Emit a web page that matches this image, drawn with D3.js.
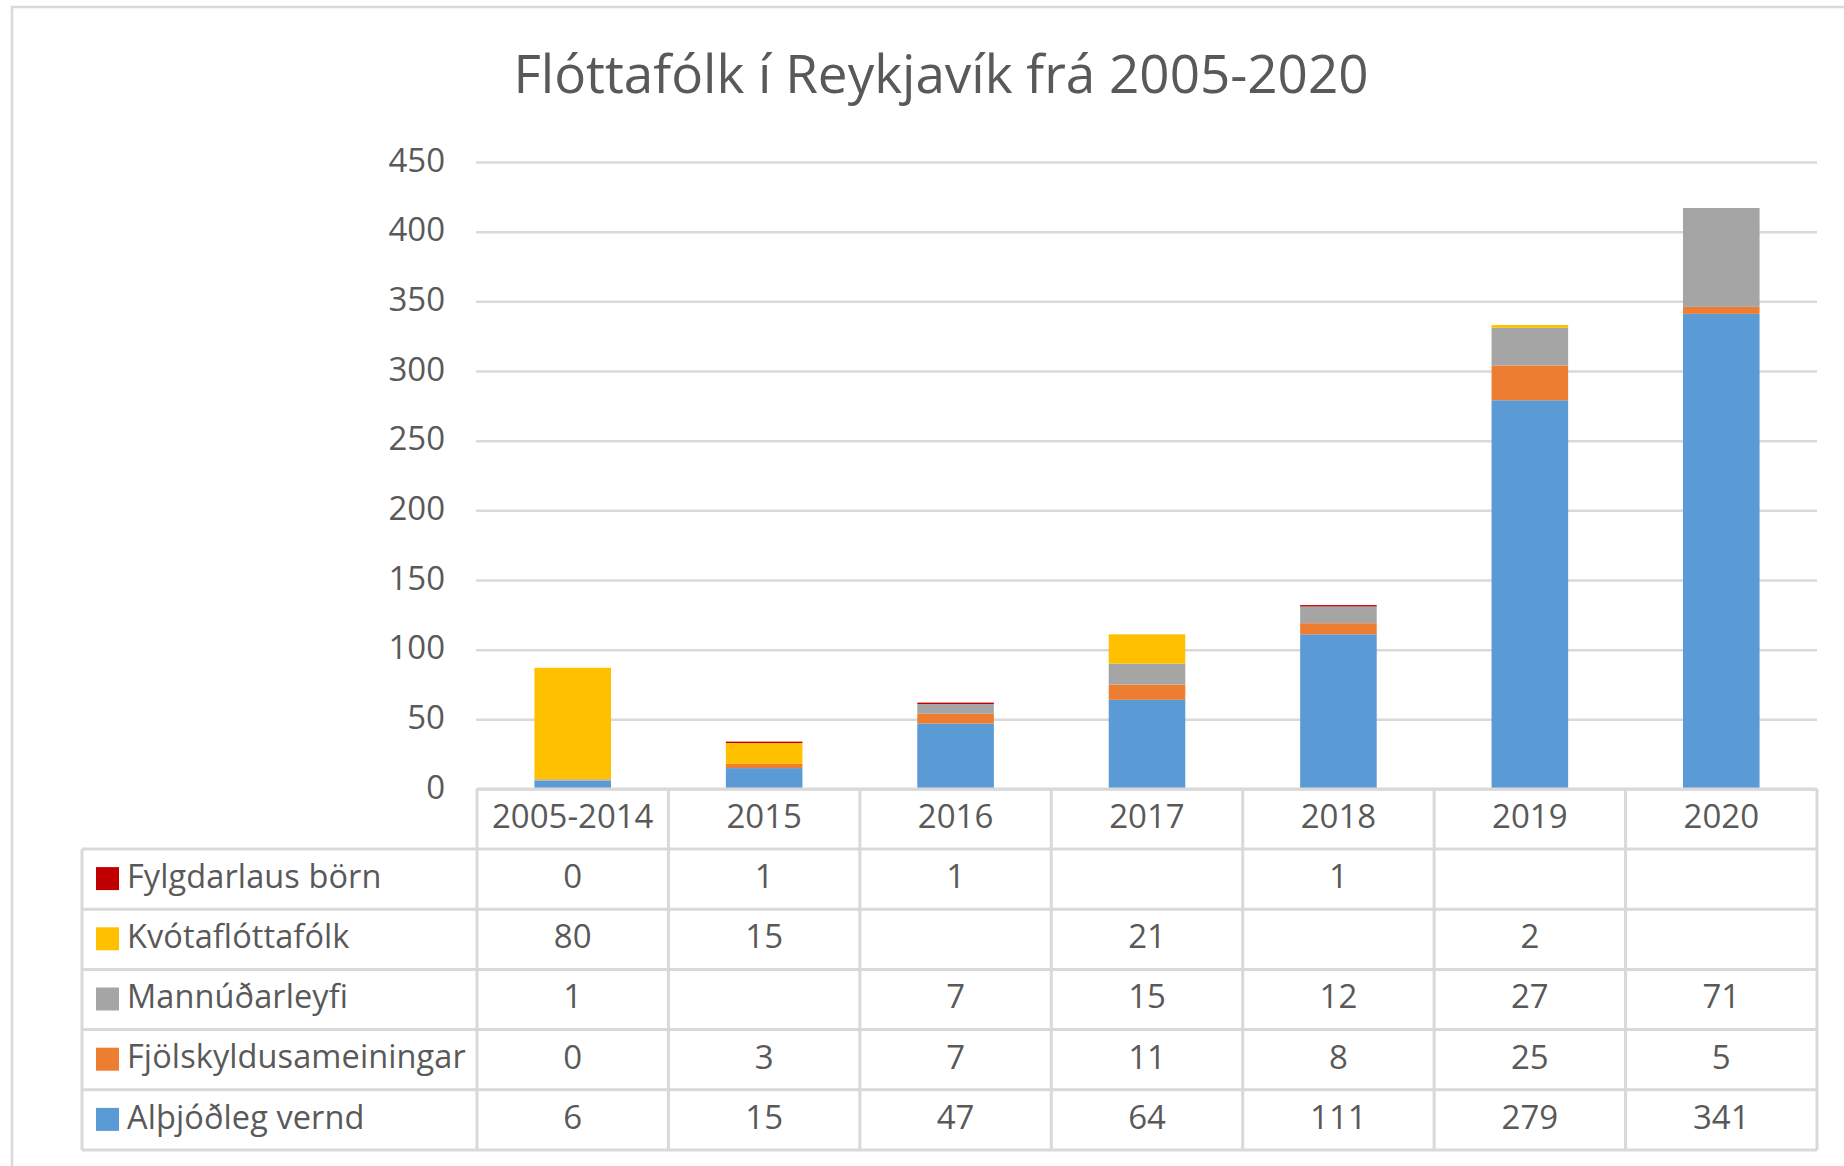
<!DOCTYPE html>
<html>
  <head>
    <meta charset="utf-8" />
    <title>Flóttafólk í Reykjavík frá 2005-2020</title>
    <style>
      body {
        background: #fff;
        margin: 0;
      }
      text {
        font-family: "Open Sans", sans-serif;
        fill: #595959;
      }
    </style>
  </head>
  <body>
    <script src="https://cdn.jsdelivr.net/npm/d3@7"></script>
    <svg class="canvas"></svg>

    <script>
      const categories = ["2005-2014", "2015", "2016", "2017", "2018", "2019", "2020"];

      // stacked bottom -> top
      const seriesNames = [
        "Alþjóðleg vernd",
        "Fjölskyldusameiningar",
        "Mannúðarleyfi",
        "Kvótaflóttafólk",
        "Fylgdarlaus börn",
      ];
      const althjodleg = [6, 15, 47, 64, 111, 279, 341];
      const fjolskyldu = [0, 3, 7, 11, 8, 25, 5];
      const mannudar = [1, null, 7, 15, 12, 27, 71];
      const kvota = [80, 15, null, 21, null, 2, null];
      const fylgdarlaus = [0, 1, 1, null, 1, null, null];

      const colors = ["#5b9bd5", "#ed7d31", "#a5a5a5", "#ffc000", "#c00000"];
      const yTicks = [0, 50, 100, 150, 200, 250, 300, 350, 400, 450];

      window.onload = function () {
        const width = 1844,
          height = 1166;
        const values = [althjodleg, fjolskyldu, mannudar, kvota, fylgdarlaus];

        const svg = d3.select(".canvas").attr("width", width).attr("height", height);

        // frame
        svg
          .append("path")
          .attr("d", `M12,${height + 5}V7H${width + 5}`)
          .attr("fill", "none")
          .attr("stroke", "#d9d9d9")
          .attr("stroke-width", 2.5);

        //----------------title----------------
        svg
          .append("text")
          .attr("x", 941)
          .attr("y", 93)
          .attr("text-anchor", "middle")
          .style("font-size", "53px")
          .text("Flóttafólk í Reykjavík frá 2005-2020");

        //----------------scales----------------
        const x = d3.scaleBand().domain(categories).range([477, 1817]);
        const y = d3.scaleLinear().domain([0, 450]).range([789, 162]);

        const yAxis = svg
          .append("g")
          .attr("transform", "translate(476,0)")
          .call(d3.axisLeft(y).tickValues(yTicks).tickSize(-(1817 - 476)).tickPadding(31));
        yAxis.select(".domain").remove();
        yAxis.selectAll("line").attr("stroke", "#d9d9d9").attr("stroke-width", 2.5);
        yAxis
          .selectAll("text")
          .attr("fill", "#595959")
          .attr("dy", "0.28em")
          .style("font-size", "33px")
          .style("font-family", "Open Sans");

        //----------------bars----------------
        const rows = categories.map((c, i) => {
          const r = { cat: c };
          seriesNames.forEach((s, k) => (r[s] = values[k][i] || 0));
          return r;
        });
        const stacked = d3.stack().keys(seriesNames)(rows);
        const barW = x.bandwidth() * 0.4;

        svg
          .append("g")
          .selectAll("g")
          .data(stacked)
          .join("g")
          .attr("fill", (d, i) => colors[i])
          .selectAll("rect")
          .data((d) => d)
          .join("rect")
          .attr("x", (d) => x(d.data.cat) + (x.bandwidth() - barW) / 2)
          .attr("width", barW)
          .attr("y", (d) => y(d[1]))
          .attr("height", (d) => y(d[0]) - y(d[1]));

        //----------------data table----------------
        const tableOrder = seriesNames.slice().reverse();
        const headerTop = 789,
          headerBottom = 849,
          tableLeft = 82;
        const row = d3.scaleBand().domain(tableOrder).range([headerBottom, 1150]);
        const table = svg.append("g");
        const lineStyle = (sel) => sel.attr("stroke", "#d9d9d9").attr("stroke-width", 3);

        // horizontal lines
        table
          .append("line")
          .attr("x1", x.range()[0])
          .attr("x2", x.range()[1])
          .attr("y1", headerTop)
          .attr("y2", headerTop)
          .call(lineStyle);
        table
          .selectAll(".hl")
          .data([headerBottom].concat(tableOrder.map((s) => row(s) + row.bandwidth())))
          .join("line")
          .attr("x1", tableLeft)
          .attr("x2", x.range()[1])
          .attr("y1", (d) => d)
          .attr("y2", (d) => d)
          .call(lineStyle);

        // vertical lines
        table
          .append("line")
          .attr("x1", tableLeft)
          .attr("x2", tableLeft)
          .attr("y1", headerBottom)
          .attr("y2", 1150)
          .call(lineStyle);
        table
          .selectAll(".vl")
          .data(categories.map((c) => x(c)).concat([x.range()[1]]))
          .join("line")
          .attr("x1", (d) => d)
          .attr("x2", (d) => d)
          .attr("y1", headerTop)
          .attr("y2", 1150)
          .call(lineStyle);

        // header labels
        table
          .selectAll(".hd")
          .data(categories)
          .join("text")
          .attr("x", (d) => x(d) + x.bandwidth() / 2)
          .attr("y", (headerTop + headerBottom) / 2)
          .attr("dy", "0.27em")
          .attr("text-anchor", "middle")
          .style("font-size", "33px")
          .text((d) => d);

        // legend keys + names
        tableOrder.forEach((s) => {
          const k = seriesNames.indexOf(s);
          const cy = row(s) + row.bandwidth() / 2;
          table
            .append("rect")
            .attr("x", 96)
            .attr("y", cy - 12)
            .attr("width", 23)
            .attr("height", 23)
            .attr("fill", colors[k]);
          table
            .append("text")
            .attr("x", 127)
            .attr("y", cy)
            .attr("dy", "0.27em")
            .style("font-size", "32.5px")
            .style("letter-spacing", "0.1px")
            .text(s);

          table
            .selectAll(".v" + k)
            .data(values[k])
            .join("text")
            .attr("x", (d, i) => x(categories[i]) + x.bandwidth() / 2)
            .attr("y", cy)
            .attr("dy", "0.27em")
            .attr("text-anchor", "middle")
            .style("font-size", "33px")
            .text((d) => (d === null ? "" : d));
        });
      };
    </script>
  </body>
</html>
